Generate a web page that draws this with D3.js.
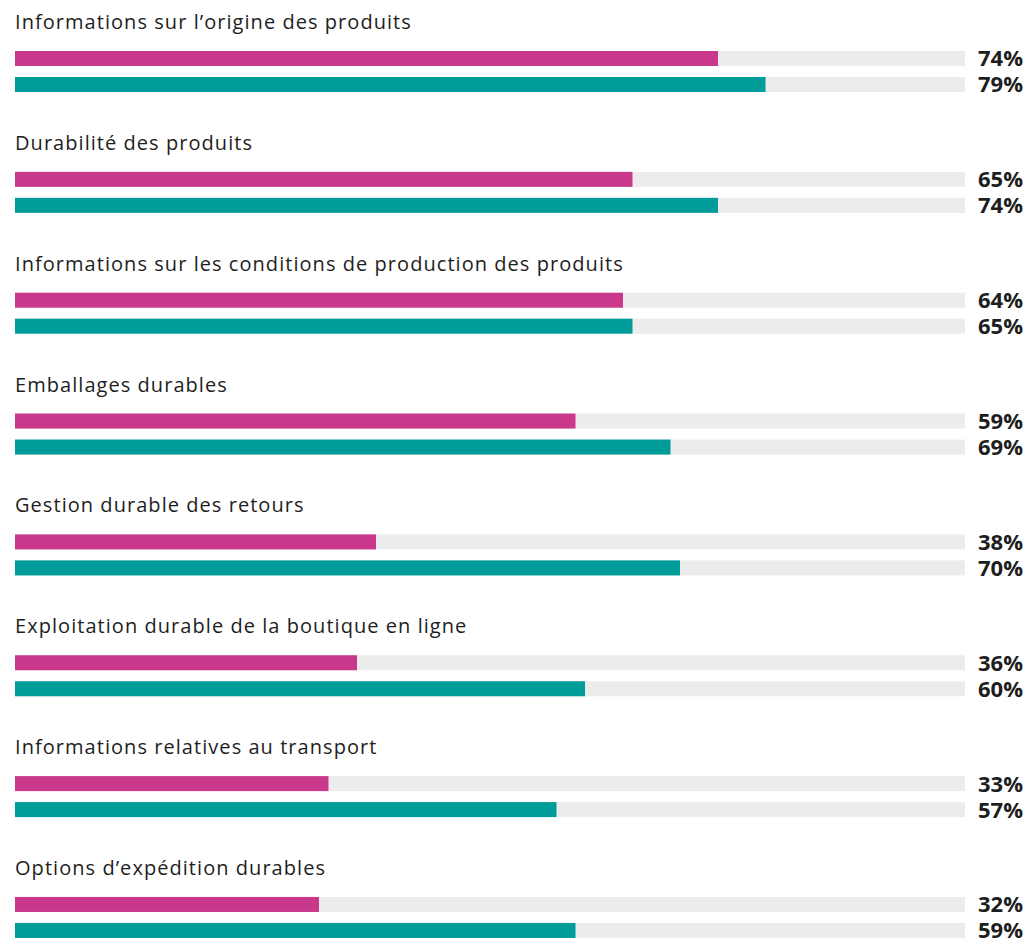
<!DOCTYPE html>
<html>
<head>
    <meta charset="utf-8">
    <script src="https://d3js.org/d3.v7.min.js"></script>
    <style>
        body { margin: 0; background: #fff; }
        .cat { font-family: "Open Sans", sans-serif; font-size: 20px; letter-spacing: 1.05px; fill: #1e1e1e; }
        .val { font-family: "Open Sans", sans-serif; font-size: 22px; font-weight: 700; fill: #1e1e1e; }
    </style>
</head>
<body>
    <div id="chart"></div>
    <script>
        // values
        var categories = [
            "Informations sur l\u2019origine des produits",
            "Durabilit\u00e9 des produits",
            "Informations sur les conditions de production des produits",
            "Emballages durables",
            "Gestion durable des retours",
            "Exploitation durable de la boutique en ligne",
            "Informations relatives au transport",
            "Options d\u2019exp\u00e9dition durables"
        ];
        var seriesA = [74, 65, 64, 59, 38, 36, 33, 32];
        var seriesB = [79, 74, 65, 69, 70, 60, 57, 59];

        var width = 1026, height = 938;
        var colors = ["#c9388a", "#009c9a"];

        var svg = d3.select("#chart").append("svg")
            .attr("width", width)
            .attr("height", height);

        var x = d3.scaleLinear().domain([0, 100]).range([15, 965]);
        var y = d3.scaleBand().domain(categories).range([0, 120.85 * categories.length]);
        // two bars of 15px, 11px apart
        var sub = d3.scaleBand().domain([0, 1]).range([51, 92]).paddingInner(11 / 26);

        var rows = categories.map(function (c, i) {
            return { cat: c, vals: [seriesA[i], seriesB[i]] };
        });

        var g = svg.selectAll("g.row")
            .data(rows).enter()
            .append("g")
            .attr("class", "row")
            .attr("transform", function (d) { return "translate(0," + y(d.cat) + ")"; });

        g.append("text")
            .attr("class", "cat")
            .attr("x", 15)
            .attr("y", 29)
            .text(function (d) { return d.cat; });

        var bars = g.selectAll("g.bar")
            .data(function (d) { return d.vals; }).enter()
            .append("g")
            .attr("class", "bar");

        // grey track
        bars.append("rect")
            .attr("x", x(0))
            .attr("y", function (d, i) { return sub(i); })
            .attr("width", x(100) - x(0))
            .attr("height", sub.bandwidth())
            .attr("fill", "#ececec");

        bars.append("rect")
            .attr("x", x(0))
            .attr("y", function (d, i) { return sub(i); })
            .attr("width", function (d) { return x(d) - x(0); })
            .attr("height", sub.bandwidth())
            .attr("fill", function (d, i) { return colors[i]; });

        bars.append("text")
            .attr("class", "val")
            .attr("x", 1023)
            .attr("y", function (d, i) { return sub(i) + sub.bandwidth() / 2; })
            .attr("dy", "0.36em")
            .attr("text-anchor", "end")
            .text(function (d) { return d + "%"; });
    </script>
</body>
</html>
